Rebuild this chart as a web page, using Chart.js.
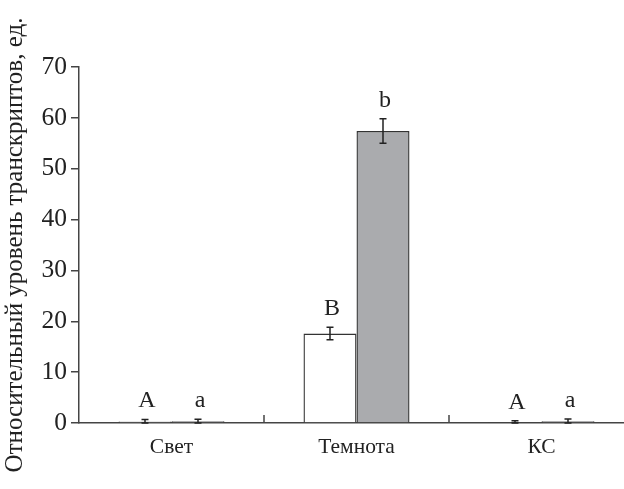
<!DOCTYPE html>
<html>
<head>
<meta charset="utf-8">
<script src="https://cdn.jsdelivr.net/npm/chart.js@4.4.0/dist/chart.umd.min.js"></script>
<style>
  html, body { margin: 0; padding: 0; background: #fff; overflow: hidden; }
  canvas { display: block; }
</style>
</head>
<body>
<canvas id="myChart" width="640" height="489"></canvas>
<script>
// values
const categories = ['Свет', 'Темнота', 'КС'];
const lightValues = [0.3, 17.6, 0.1];
const darkValues = [0.35, 57.4, 0.35];
const lightErrors = [0.4, 1.25, 0.35];
const darkErrors = [0.4, 2.4, 0.45];
const lightLetters = ['A', 'B', 'A'];
const darkLetters = ['a', 'b', 'a'];
const yMin = 0;
const yMax = 70;
const yStep = 10;
const yTitle = 'Относительный уровень транскриптов, ед.';

const serif = "'Liberation Serif', 'DejaVu Serif', serif";
const ink = '#222';
const axisColor = '#444';

// error bars + letters above them
const errorBarPlugin = {
    id: 'errorBars',
    afterDatasetsDraw(chart) {
        const ctx = chart.ctx;
        const yScale = chart.scales.y;
        const errs = [lightErrors, darkErrors];
        const letters = [lightLetters, darkLetters];
        ctx.save();
        chart.data.datasets.forEach((ds, di) => {
            const meta = chart.getDatasetMeta(di);
            meta.data.forEach((bar, i) => {
                const v = ds.data[i];
                const e = errs[di][i];
                const top = yScale.getPixelForValue(v + e);
                const bottom = yScale.getPixelForValue(Math.max(0, v - e));
                const cap = 3.5;
                ctx.strokeStyle = ink;
                ctx.lineWidth = 1.5;
                ctx.beginPath();
                ctx.moveTo(bar.x, top);
                ctx.lineTo(bar.x, bottom);
                ctx.moveTo(bar.x - cap, top);
                ctx.lineTo(bar.x + cap, top);
                ctx.moveTo(bar.x - cap, bottom);
                ctx.lineTo(bar.x + cap, bottom);
                ctx.stroke();

                ctx.fillStyle = ink;
                ctx.font = '24px ' + serif;
                ctx.textAlign = 'center';
                ctx.textBaseline = 'alphabetic';
                ctx.fillText(letters[di][i], bar.x + 2, top - 12);
            });
        });
        ctx.restore();
    }
};

// small ticks between categories, pointing up from the x axis
const categoryTicksPlugin = {
    id: 'categoryTicks',
    afterDraw(chart) {
        const ctx = chart.ctx;
        const x = chart.scales.x;
        const bottom = chart.chartArea.bottom;
        ctx.save();
        ctx.strokeStyle = axisColor;
        ctx.lineWidth = 1.5;
        for (let i = 1; i < categories.length; i++) {
            const px = (x.getPixelForValue(i - 1) + x.getPixelForValue(i)) / 2;
            ctx.beginPath();
            ctx.moveTo(px, bottom);
            ctx.lineTo(px, bottom - 8);
            ctx.stroke();
        }
        ctx.restore();
    }
};

const myChartRef = document.getElementById('myChart').getContext('2d');
new Chart(myChartRef, {
    type: 'bar',
    data: {
        labels: categories,
        datasets: [
            {
                label: 'light',
                data: lightValues,
                backgroundColor: '#ffffff',
                borderColor: '#333333',
                borderWidth: 1.4,
                categoryPercentage: 0.573,
                barPercentage: 1.0,
            },
            {
                label: 'dark',
                data: darkValues,
                backgroundColor: '#aaabae',
                borderColor: '#333333',
                borderWidth: 1.4,
                categoryPercentage: 0.573,
                barPercentage: 1.0,
            },
        ],
    },
    options: {
        responsive: false,
        animation: false,
        layout: {
            padding: {top: 67, right: 6, bottom: 0, left: 0},
        },
        plugins: {
            legend: {display: false},
            tooltip: {enabled: false},
        },
        scales: {
            x: {
                offset: true,
                grid: {display: false, drawTicks: false},
                border: {display: true, color: axisColor, width: 1.5},
                ticks: {
                    color: ink,
                    font: {family: serif, size: 21.5},
                    padding: 11,
                },
                afterFit(scale) {
                    scale.height = 66;
                },
            },
            y: {
                min: yMin,
                max: yMax,
                grid: {
                    display: true,
                    drawOnChartArea: false,
                    drawTicks: true,
                    tickLength: 8,
                    color: axisColor,
                    lineWidth: 1.5,
                },
                border: {display: true, color: axisColor, width: 1.5},
                ticks: {
                    stepSize: yStep,
                    color: ink,
                    font: {family: serif, size: 25.5},
                    padding: 4,
                },
                title: {
                    display: true,
                    text: yTitle,
                    color: ink,
                    font: {family: serif, size: 25},
                    padding: {top: 0, bottom: 0},
                },
                afterFit(scale) {
                    scale.width = 79;
                },
            },
        },
    },
    plugins: [errorBarPlugin, categoryTicksPlugin],
});
</script>
</body>
</html>
